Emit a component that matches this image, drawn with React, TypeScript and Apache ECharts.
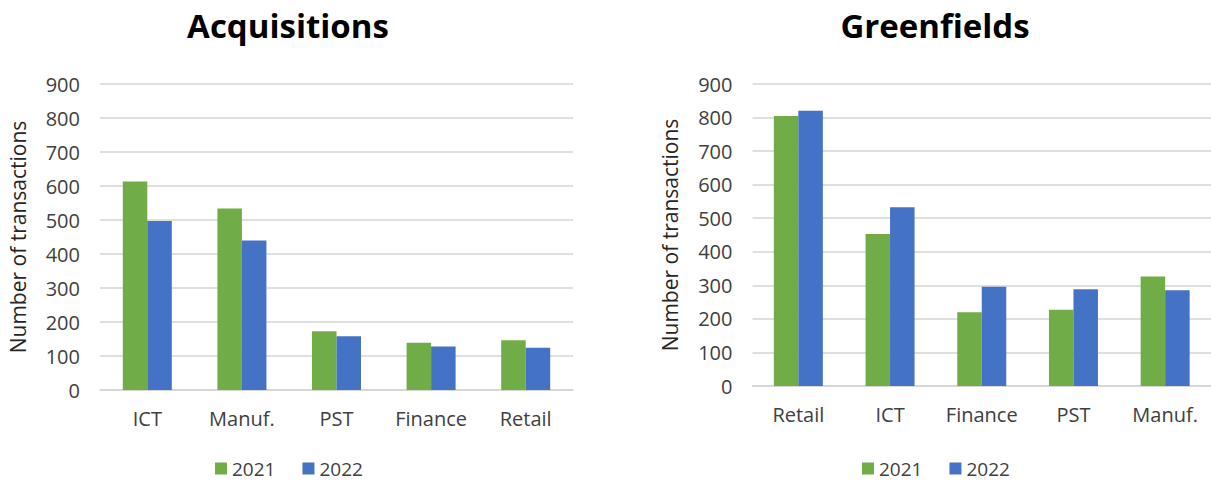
import React, { useEffect, useRef } from "react";
import * as echarts from "echarts";

const acqCategories = ["ICT", "Manuf.", "PST", "Finance", "Retail"];
const acq2021 = [613, 534, 173, 139, 146];
const acq2022 = [497, 440, 158, 128, 124];

const greenCategories = ["Retail", "ICT", "Finance", "PST", "Manuf."];
const green2021 = [805, 453, 220, 227, 326];
const green2022 = [820, 533, 296, 288, 285];

const yTicks = { min: 0, max: 900, interval: 100 };
const seriesNames = ["2021", "2022"];

const GREEN = "#70AD47";
const BLUE = "#4472C4";
const FONT = "Open Sans";

export default function App() {
  const ref = useRef<HTMLDivElement>(null);
  useEffect(() => {
    if (!ref.current) return;
    const chart = echarts.init(ref.current, null, { renderer: "svg" });
    const xAxisBase = (idx: number, data: string[]) => ({
      type: "category",
      gridIndex: idx,
      data,
      axisLine: { show: true, lineStyle: { color: "#d4d4d4", width: 1.5 } },
      axisTick: { show: false },
      axisLabel: {
        color: "#404040",
        fontSize: 20,
        fontFamily: FONT,
        margin: 18,
        interval: 0,
        hideOverlap: false,
      },
    });
    const yAxisBase = (idx: number) => ({
      type: "value",
      gridIndex: idx,
      min: yTicks.min,
      max: yTicks.max,
      interval: yTicks.interval,
      name: "Number of transactions",
      nameLocation: "middle",
      nameGap: 72,
      nameTextStyle: { color: "#262626", fontSize: 21, fontFamily: FONT },
      axisLine: { show: false },
      axisTick: { show: false },
      splitLine: { lineStyle: { color: "#d4d4d4", width: 1.5 } },
      axisLabel: { color: "#404040", fontSize: 20, fontFamily: FONT, margin: 20 },
    });
    const bar = (name: string, data: number[], idx: number, color: string) => ({
      name,
      type: "bar",
      xAxisIndex: idx,
      yAxisIndex: idx,
      data,
      barWidth: 24.5,
      barGap: "0%",
      itemStyle: { color },
    });
    const legendBase = (left: number) => ({
      data: seriesNames,
      left,
      top: 459,
      orient: "horizontal",
      padding: 0,
      itemWidth: 12,
      itemHeight: 12,
      itemGap: 27,
      icon: "rect",
      selectedMode: false,
      textStyle: { color: "#404040", fontSize: 19, lineHeight: 19, fontFamily: FONT },
    });
    chart.setOption({
      animation: false,
      backgroundColor: "#ffffff",
      grid: [
        { left: 100, top: 84, width: 473, height: 306 },
        { left: 752.5, top: 84, width: 463, height: 302 },
      ],
      xAxis: [xAxisBase(0, acqCategories), xAxisBase(1, greenCategories)],
      yAxis: [yAxisBase(0), yAxisBase(1)],
      legend: [legendBase(215), legendBase(862)],
      series: [
        bar(seriesNames[0], acq2021, 0, GREEN),
        bar(seriesNames[1], acq2022, 0, BLUE),
        bar(seriesNames[0], green2021, 1, GREEN),
        bar(seriesNames[1], green2022, 1, BLUE),
      ],
      graphic: [
        {
          type: "text",
          x: 288,
          y: 25,
          style: {
            text: "Acquisitions",
            fontFamily: FONT,
            fontWeight: "bold",
            fontSize: 33,
            fill: "#000",
            align: "center",
            verticalAlign: "middle",
          },
        },
        {
          type: "text",
          x: 935,
          y: 25,
          style: {
            text: "Greenfields",
            fontFamily: FONT,
            fontWeight: "bold",
            fontSize: 33,
            fill: "#000",
            align: "center",
            verticalAlign: "middle",
          },
        },
      ],
    });
    return () => chart.dispose();
  }, []);
  return (
    <div
      ref={ref}
      style={{ position: "absolute", left: 0, top: 0, width: 1211, height: 483 }}
    />
  );
}
